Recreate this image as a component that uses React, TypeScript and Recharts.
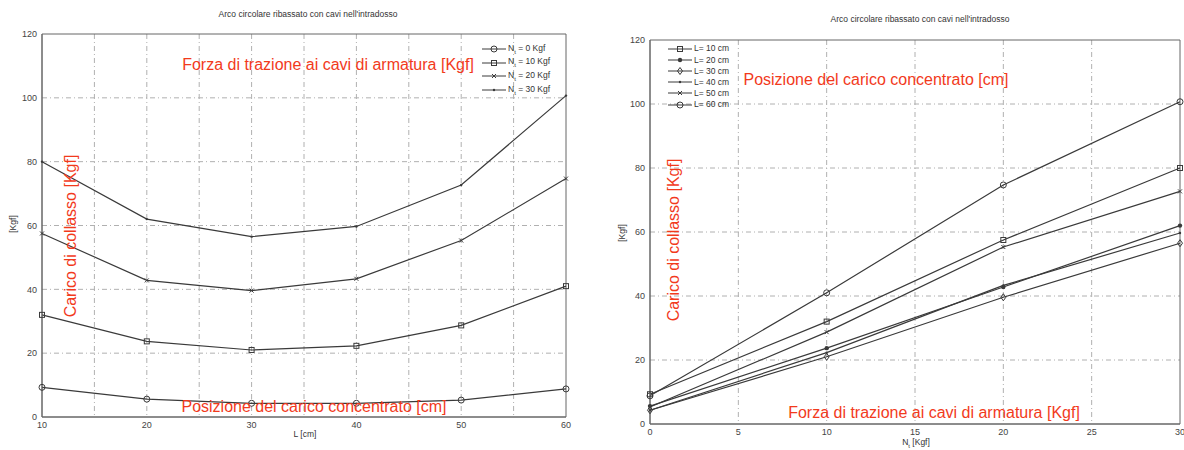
import React from 'react';
import { LineChart, Line, XAxis, YAxis, CartesianGrid, ReferenceArea } from 'recharts';

// L [cm] -> position of the concentrated load
const lengths = [10, 20, 30, 40, 50, 60];
// N_t [Kgf] -> tension force in the cables
const forces = [0, 10, 20, 30];

// collapse load [Kgf] for each L, one array per N_t
const loadN0 = [9.3, 5.6, 4.3, 4.3, 5.3, 8.8];
const loadN10 = [32, 23.7, 21, 22.3, 28.7, 41];
const loadN20 = [57.5, 42.8, 39.6, 43.3, 55.3, 74.7];
const loadN30 = [80, 62, 56.5, 59.7, 72.7, 100.7];

const loadTicks = [0, 20, 40, 60, 80, 100, 120];
const lengthTicks = [10, 20, 30, 40, 50, 60];
const forceTicks = [0, 5, 10, 15, 20, 25, 30];

const title = "Arco circolare ribassato con cavi nell'intradosso";
const redForce = 'Forza di trazione ai cavi di armatura [Kgf]';
const redLoad = 'Carico di collasso [Kgf]';
const redPos = 'Posizione del carico concentrato [cm]';

type Kind = 'circle' | 'square' | 'x' | 'point' | 'filled' | 'diamond';

const forceSeries: { key: string; n: number; kind: Kind; values: number[] }[] = [
  { key: 'n0', n: 0, kind: 'circle', values: loadN0 },
  { key: 'n10', n: 10, kind: 'square', values: loadN10 },
  { key: 'n20', n: 20, kind: 'x', values: loadN20 },
  { key: 'n30', n: 30, kind: 'point', values: loadN30 },
];

const lengthKinds: Kind[] = ['square', 'filled', 'diamond', 'point', 'x', 'circle'];

const leftData = lengths.map((l, i) => {
  const row: Record<string, number> = { l };
  forceSeries.forEach((s) => (row[s.key] = s.values[i]));
  return row;
});

const rightData = forces.map((n, j) => {
  const row: Record<string, number> = { n };
  lengths.forEach((l, i) => (row['L' + l] = forceSeries[j].values[i]));
  return row;
});

const INK = '#3a3a3a';
const RED = '#f23a1c';
const FONT = '"Liberation Sans", Arial, sans-serif';

function marker(cx: number, cy: number, kind: Kind, key?: string) {
  if (cx == null || cy == null) return <g key={key} />;
  switch (kind) {
    case 'circle':
      return <circle key={key} cx={cx} cy={cy} r={3} fill="none" stroke={INK} strokeWidth={1} />;
    case 'square':
      return <rect key={key} x={cx - 2.5} y={cy - 2.5} width={5} height={5} fill="none" stroke={INK} strokeWidth={1} />;
    case 'x':
      return (
        <path key={key} d={`M${cx - 2},${cy - 2}L${cx + 2},${cy + 2}M${cx - 2},${cy + 2}L${cx + 2},${cy - 2}`} stroke={INK} strokeWidth={1} />
      );
    case 'point':
      return <circle key={key} cx={cx} cy={cy} r={1.2} fill={INK} />;
    case 'filled':
      return <circle key={key} cx={cx} cy={cy} r={2.2} fill={INK} />;
    case 'diamond':
      return (
        <path key={key} d={`M${cx},${cy - 3.5}L${cx + 2.5},${cy}L${cx},${cy + 3.5}L${cx - 2.5},${cy}Z`} fill="none" stroke={INK} strokeWidth={1} />
      );
  }
}

const tickStyle = { fontSize: 9, fill: '#444', fontFamily: FONT };
const gridProps = { stroke: '#b0b0b0', strokeDasharray: '5 3 1 3' };

function LegendBox({ items, style }: { items: { label: React.ReactNode; kind: Kind }[]; style: React.CSSProperties }) {
  return (
    <div style={{ position: 'absolute', fontFamily: FONT, fontSize: 8.5, color: '#333', lineHeight: 1, ...style }}>
      {items.map((it, i) => (
        <div key={i} style={{ display: 'flex', alignItems: 'center', height: (style as any).rowHeight }}>
          <svg width={24} height={8} style={{ marginRight: 2 }}>
            <line x1={0} y1={4} x2={24} y2={4} stroke={INK} strokeWidth={1} />
            {marker(12, 4, it.kind)}
          </svg>
          <span>{it.label}</span>
        </div>
      ))}
    </div>
  );
}

function Abs({ x, y, children, style }: { x: number; y: number; children: React.ReactNode; style?: React.CSSProperties }) {
  return (
    <div style={{ position: 'absolute', left: x, top: y, transform: 'translate(-50%, -50%)', whiteSpace: 'nowrap', fontFamily: FONT, ...style }}>
      {children}
    </div>
  );
}

export default function App() {
  const redStyle = { color: RED, fontSize: 16 };
  const smallStyle = { color: '#333', fontSize: 8.5 };
  return (
    <div style={{ position: 'absolute', left: 0, top: 0, width: 1184, height: 450, background: '#fff', overflow: 'hidden' }}>
      <div style={{ position: 'absolute', left: 0, top: 0 }}>
        <LineChart width={600} height={450} data={leftData} margin={{ top: 34, right: 34, bottom: 13, left: 12 }}>
          <CartesianGrid {...gridProps} horizontalValues={[20, 40, 60, 80, 100]} verticalValues={[15, 20, 25, 30, 35, 40, 45, 50, 55]} />
          <XAxis dataKey="l" type="number" domain={[10, 60]} ticks={lengthTicks} height={20} tick={tickStyle} tickLine={false} tickSize={3} axisLine={{ stroke: '#666' }} />
          <YAxis type="number" domain={[0, 120]} ticks={loadTicks} width={30} tick={tickStyle} tickLine={false} tickSize={3} axisLine={{ stroke: '#666' }} />
          <ReferenceArea x1={10} x2={60} y1={0} y2={120} fill="none" stroke="#666" strokeOpacity={1} />
          {forceSeries.map((s) => (
            <Line
              key={s.key}
              dataKey={s.key}
              type="linear"
              stroke={INK}
              strokeWidth={1.2}
              isAnimationActive={false}
              dot={(p: any) => marker(p.cx, p.cy, s.kind, `${s.key}-${p.index}`)}
            />
          ))}
        </LineChart>
      </div>
      <div style={{ position: 'absolute', left: 600, top: 0 }}>
        <LineChart width={590} height={450} data={rightData} margin={{ top: 40, right: 10, bottom: 10, left: 20 }}>
          <CartesianGrid {...gridProps} horizontalValues={[20, 40, 60, 80, 100]} verticalValues={[5, 10, 15, 20, 25]} />
          <XAxis dataKey="n" type="number" domain={[0, 30]} ticks={forceTicks} height={16} tick={tickStyle} tickLine={false} tickSize={3} axisLine={{ stroke: '#666' }} />
          <YAxis type="number" domain={[0, 120]} ticks={loadTicks} width={30} tick={tickStyle} tickLine={false} tickSize={3} axisLine={{ stroke: '#666' }} />
          <ReferenceArea x1={0} x2={30} y1={0} y2={120} fill="none" stroke="#666" strokeOpacity={1} />
          {lengths.map((l, i) => (
            <Line
              key={l}
              dataKey={'L' + l}
              type="linear"
              stroke={INK}
              strokeWidth={1.2}
              isAnimationActive={false}
              dot={(p: any) => marker(p.cx, p.cy, lengthKinds[i], `L${l}-${p.index}`)}
            />
          ))}
        </LineChart>
      </div>

      <Abs x={308} y={14} style={smallStyle}>{title}</Abs>
      <Abs x={920} y={19} style={smallStyle}>{title}</Abs>

      <Abs x={13} y={224} style={{ ...smallStyle, transform: 'translate(-50%, -50%) rotate(-90deg)' }}>[Kgf]</Abs>
      <Abs x={622} y={233} style={{ ...smallStyle, transform: 'translate(-50%, -50%) rotate(-90deg)' }}>[Kgf]</Abs>
      <Abs x={305} y={434} style={smallStyle}>L [cm]</Abs>
      <Abs x={916} y={443} style={smallStyle}>
        N<sub style={{ fontSize: 6 }}>t</sub> [Kgf]
      </Abs>

      <Abs x={328} y={65} style={redStyle}>{redForce}</Abs>
      <Abs x={71} y={236} style={{ ...redStyle, transform: 'translate(-50%, -50%) rotate(-90deg)' }}>{redLoad}</Abs>
      <Abs x={314} y={407} style={redStyle}>{redPos}</Abs>

      <Abs x={876} y={80} style={redStyle}>{redPos}</Abs>
      <Abs x={674} y={240} style={{ ...redStyle, transform: 'translate(-50%, -50%) rotate(-90deg)' }}>{redLoad}</Abs>
      <Abs x={934} y={413} style={redStyle}>{redForce}</Abs>

      <LegendBox
        style={{ left: 482, top: 42, rowHeight: 13.8 } as any}
        items={forceSeries.map((s) => ({
          kind: s.kind,
          label: (
            <>
              N<sub style={{ fontSize: 6 }}>t</sub> = {s.n} Kgf
            </>
          ),
        }))}
      />
      <LegendBox
        style={{ left: 668, top: 43, rowHeight: 11.2 } as any}
        items={lengths.map((l, i) => ({ kind: lengthKinds[i], label: `L= ${l} cm` }))}
      />
    </div>
  );
}
